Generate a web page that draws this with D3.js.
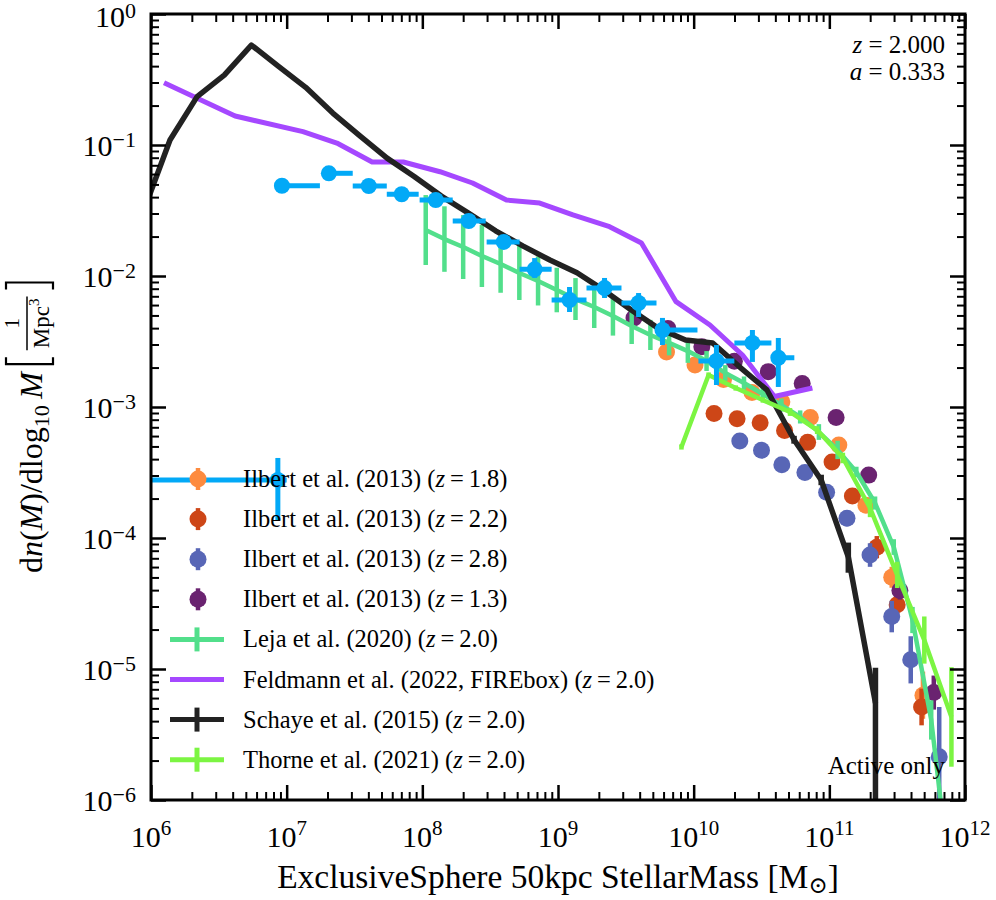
<!DOCTYPE html>
<html>
<head>
<meta charset="utf-8">
<script src="https://cdn.jsdelivr.net/npm/d3@7"></script>
<style>
body { margin: 0; background: #fff; }
text { font-family: "Liberation Serif", "DejaVu Serif", serif; fill: #000; }
</style>
</head>
<body>
<div id="chart-area"></div>
<script>
// all values are log10: mass in Msun, phi in 1/Mpc^3/dex

// Ilbert et al. (2013) z=1.8
let ilbert18M   = [9.80, 10.01, 10.22, 10.43, 10.65, 10.86, 11.07, 11.27, 11.46, 11.69];
let ilbert18Phi = [-2.58, -2.68, -2.79, -2.89, -2.96, -3.08, -3.29, -3.75, -4.30, -5.20];
let ilbert18Err = [0.04, 0.04, 0.04, 0.04, 0.04, 0.04, 0.05, 0.06, 0.08, 0.18];

// Ilbert et al. (2013) z=2.2
let ilbert22M   = [10.15, 10.32, 10.49, 10.67, 10.84, 11.02, 11.17, 11.35, 11.50, 11.68];
let ilbert22Phi = [-3.05, -3.09, -3.12, -3.18, -3.27, -3.42, -3.68, -4.07, -4.51, -5.29];
let ilbert22Err = [0.04, 0.04, 0.04, 0.04, 0.04, 0.05, 0.06, 0.085, 0.09, 0.14];

// Ilbert et al. (2013) z=2.8
let ilbert28M     = [10.34, 10.50, 10.65, 10.82, 10.98, 11.13, 11.30, 11.46, 11.60, 11.81];
let ilbert28Phi   = [-3.26, -3.33, -3.44, -3.50, -3.65, -3.85, -4.13, -4.60, -4.93, -5.67];
let ilbert28ErrUp = [0.04, 0.04, 0.04, 0.05, 0.05, 0.06, 0.09, 0.12, 0.18, 0.38];
let ilbert28ErrDn = [0.04, 0.04, 0.04, 0.05, 0.05, 0.06, 0.09, 0.12, 0.18, 1.50];

// Ilbert et al. (2013) z=1.3
let ilbert13M   = [9.56, 9.81, 10.06, 10.30, 10.55, 10.80, 11.05, 11.29, 11.52, 11.77];
let ilbert13Phi = [-2.32, -2.40, -2.54, -2.65, -2.73, -2.82, -3.08, -3.52, -4.40, -5.18];
let ilbert13Err = [0.03, 0.03, 0.03, 0.03, 0.03, 0.04, 0.04, 0.05, 0.07, 0.13];

// Leja et al. (2020)
let lejaM   = [8.025, 8.163, 8.301, 8.439, 8.577, 8.715, 8.853, 8.991, 9.129, 9.267,
               9.405, 9.543, 9.681, 9.819, 9.957, 10.095, 10.233, 10.371, 10.509, 10.647,
               10.785, 10.923, 11.061, 11.199, 11.337, 11.475, 11.613, 11.751, 11.889];
let lejaPhi = [-1.649, -1.718, -1.779, -1.847, -1.908, -1.977, -2.038, -2.107, -2.176, -2.237,
               -2.305, -2.382, -2.450, -2.511, -2.573, -2.649, -2.740, -2.817, -2.901, -2.985,
               -3.076, -3.191, -3.328, -3.496, -3.733, -4.069, -4.626, -5.389, -6.610];
let lejaErr = [0.267, 0.25, 0.244, 0.237, 0.22, 0.206, 0.187, 0.17, 0.16, 0.16,
               0.15, 0.137, 0.115, 0.095, 0.09, 0.076, 0.06, 0.05, 0.05, 0.05,
               0.05, 0.06, 0.07, 0.04, 0.05, 0.06, 0.10, 0.15, 0.20];

// Feldmann et al. (2022, FIREbox)
let feldmannM   = [6.096, 6.62, 7.12, 7.37, 7.63, 7.86, 8.13, 8.37, 8.62, 8.865,
                   9.11, 9.38, 9.615, 9.87, 10.12, 10.36, 10.595, 10.875];
let feldmannPhi = [-0.524, -0.779, -0.898, -0.985, -1.13, -1.13, -1.204, -1.29, -1.42, -1.443,
                   -1.534, -1.624, -1.748, -2.196, -2.374, -2.603, -2.92, -2.855];

// Schaye et al. (2015)
let schayeM     = [5.94, 6.14, 6.34, 6.54, 6.74, 6.94, 7.14, 7.34, 7.54, 7.74,
                   7.94, 8.14, 8.34, 8.54, 8.74, 8.94, 9.14, 9.34, 9.54, 9.74,
                   9.94, 10.14, 10.34, 10.54, 10.74, 10.94, 11.14, 11.34];
let schayePhi   = [-1.52, -0.962, -0.631, -0.466, -0.237, -0.40, -0.56, -0.756, -0.93, -1.10,
                   -1.24, -1.39, -1.52, -1.655, -1.77, -1.878, -1.975, -2.11, -2.26, -2.40,
                   -2.489, -2.511, -2.695, -2.87, -3.25, -3.557, -4.145, -5.26];
let schayeErrUp = [0, 0, 0, 0, 0, 0, 0, 0, 0, 0, 0, 0, 0, 0, 0, 0, 0, 0, 0, 0,
                   0, 0, 0, 0, 0.03, 0.04, 0.11, 0.27];
let schayeErrDn = [0, 0, 0, 0, 0, 0, 0, 0, 0, 0, 0, 0, 0, 0, 0, 0, 0, 0, 0, 0,
                   0, 0, 0, 0, 0.03, 0.04, 0.12, 3.0];

// Thorne et al. (2021)
let thorneM   = [9.91, 10.11, 10.31, 10.51, 10.71, 10.91, 11.10, 11.30, 11.50, 11.70, 11.90];
let thornePhi = [-3.305, -2.756, -2.855, -2.947, -3.038, -3.176, -3.389, -3.771, -4.282, -4.779, -5.366];
let thorneErr = [0.02, 0.02, 0.02, 0.02, 0.03, 0.03, 0.04, 0.07, 0.10, 0.18, 0.38];

// unlabelled binned points (light blue)
let binM     = [6.935, 6.965, 7.311, 7.605, 7.848, 8.099, 8.342, 8.60, 8.828, 9.085,
                9.343, 9.594, 9.77, 10.168, 10.433, 10.624];
let binMLo   = [5.5, 6.965, 7.26, 7.487, 7.738, 7.98, 8.224, 8.474, 8.717, 8.953,
                9.21, 9.468, 9.726, 10.035, 10.30, 10.573];
let binMHi   = [7.0, 7.245, 7.487, 7.738, 7.973, 8.224, 8.467, 8.717, 8.953, 9.21,
                9.468, 9.726, 10.028, 10.30, 10.573, 10.742];
let binPhi   = [-3.557, -1.311, -1.216, -1.313, -1.376, -1.42, -1.58, -1.74, -1.949, -2.183,
                -2.092, -2.206, -2.412, -2.649, -2.511, -2.624];
let binErrUp = [0.168, 0.02, 0.02, 0.02, 0.02, 0.02, 0.02, 0.03, 0.086, 0.099,
                0.077, 0.076, 0.092, 0.122, 0.099, 0.151];
let binErrDn = [0.306, 0.02, 0.02, 0.02, 0.02, 0.02, 0.02, 0.03, 0.066, 0.092,
                0.076, 0.107, 0.115, 0.183, 0.145, 0.223];

let xTickExps = [6, 7, 8, 9, 10, 11, 12];
let yTickExps = [0, -1, -2, -3, -4, -5, -6];

let legendNames = ["Ilbert et al. (2013) (", "Ilbert et al. (2013) (", "Ilbert et al. (2013) (",
                   "Ilbert et al. (2013) (", "Leja et al. (2020) (", "Feldmann et al. (2022, FIREbox) (",
                   "Schaye et al. (2015) (", "Thorne et al. (2021) ("];
let legendZ     = ["1.8", "2.2", "2.8", "1.3", "2.0", "2.0", "2.0", "2.0"];
let legendKind  = ["dot", "dot", "dot", "dot", "cross", "line", "cross", "cross"];

let cOrange = "#fd8b3f", cRed = "#cd4617", cBlue = "#5866b6", cPlum = "#6a2370";
let cLeja = "#52df8b", cFeld = "#a548ff", cSchaye = "#222222", cThorne = "#7cf542", cBin = "#02a9f7";
let legendColors = [cOrange, cRed, cBlue, cPlum, cLeja, cFeld, cSchaye, cThorne];

const W = 996, H = 900;
const L = 151, R = 965, T = 14, B = 800;
const p = v => Math.pow(10, v);

let svg = d3.select("#chart-area").append("svg")
    .attr("width", W).attr("height", H)
    .style("display", "block");
svg.append("rect").attr("width", W).attr("height", H).attr("fill", "#fff");

let x = d3.scaleLog().domain([1e6, 1e12]).range([L, R]);
let y = d3.scaleLog().domain([1e-6, 1]).range([B, T]);

svg.append("clipPath").attr("id", "plotclip")
    .append("rect").attr("x", L).attr("y", T).attr("width", R - L).attr("height", B - T);

let plot = svg.append("g").attr("clip-path", "url(#plotclip)");

function yerrBars(g, m, phi, up, dn, color, width) {
    g.selectAll(null).data(m).enter().append("line")
        .attr("x1", (d) => x(p(d))).attr("x2", (d) => x(p(d)))
        .attr("y1", (d, i) => y(p(phi[i] + up[i])))
        .attr("y2", (d, i) => y(p(phi[i] - dn[i])))
        .attr("stroke", color).attr("stroke-width", width);
}

function dots(m, phi, up, dn, color) {
    let g = plot.append("g");
    yerrBars(g, m, phi, up, dn, color, 4.5);
    g.selectAll("circle").data(m).enter().append("circle")
        .attr("cx", (d) => x(p(d)))
        .attr("cy", (d, i) => y(p(phi[i])))
        .attr("r", 8.5)
        .attr("fill", color);
}

function curve(m, phi, color, width) {
    let line = d3.line()
        .x((d) => x(p(d)))
        .y((d, i) => y(p(phi[i])));
    plot.append("path").datum(m)
        .attr("d", line)
        .attr("fill", "none")
        .attr("stroke", color)
        .attr("stroke-width", width)
        .attr("stroke-linejoin", "round");
}

dots(ilbert18M, ilbert18Phi, ilbert18Err, ilbert18Err, cOrange);
dots(ilbert22M, ilbert22Phi, ilbert22Err, ilbert22Err, cRed);
dots(ilbert28M, ilbert28Phi, ilbert28ErrUp, ilbert28ErrDn, cBlue);
dots(ilbert13M, ilbert13Phi, ilbert13Err, ilbert13Err, cPlum);

curve(lejaM, lejaPhi, cLeja, 4.5);
yerrBars(plot.append("g"), lejaM, lejaPhi, lejaErr, lejaErr, cLeja, 4.5);

curve(feldmannM, feldmannPhi, cFeld, 5);

curve(schayeM, schayePhi, cSchaye, 5.5);
yerrBars(plot.append("g"), schayeM, schayePhi, schayeErrUp, schayeErrDn, cSchaye, 5.5);

curve(thorneM, thornePhi, cThorne, 4.5);
yerrBars(plot.append("g"), thorneM, thornePhi, thorneErr, thorneErr, cThorne, 4.5);

// binned points
let bins = plot.append("g");
bins.selectAll("line.xe").data(binM).enter().append("line")
    .attr("x1", (d, i) => x(p(binMLo[i]))).attr("x2", (d, i) => x(p(binMHi[i])))
    .attr("y1", (d, i) => y(p(binPhi[i]))).attr("y2", (d, i) => y(p(binPhi[i])))
    .attr("stroke", cBin).attr("stroke-width", 5);
yerrBars(bins, binM, binPhi, binErrUp, binErrDn, cBin, 5);
bins.selectAll("circle").data(binM).enter().append("circle")
    .attr("cx", (d) => x(p(d)))
    .attr("cy", (d, i) => y(p(binPhi[i])))
    .attr("r", 8)
    .attr("fill", cBin);

// axes (ticks inward on all four sides)
let majX = xTickExps.map(p);
let majY = yTickExps.map(p);
let minX = [], minY = [];
xTickExps.slice(0, -1).forEach((e) => { for (let k = 2; k < 10; k++) minX.push(k * p(e)); });
yTickExps.slice(1).forEach((e) => { for (let k = 2; k < 10; k++) minY.push(k * p(e)); });

function axisGroup(axis, tx, ty) {
    let g = svg.append("g").attr("transform", `translate(${tx},${ty})`).call(axis);
    g.select(".domain").remove();
    g.selectAll("text").remove();
    return g;
}
[[d3.axisBottom, 0, B], [d3.axisTop, 0, T]].forEach(([a, tx, ty]) => {
    axisGroup(a(x).tickValues(majX).tickSize(-15).tickSizeOuter(0), tx, ty)
        .selectAll("line").attr("stroke-width", 2.5);
    axisGroup(a(x).tickValues(minX).tickSize(-8).tickSizeOuter(0), tx, ty)
        .selectAll("line").attr("stroke-width", 2);
});
[[d3.axisLeft, L, 0], [d3.axisRight, R, 0]].forEach(([a, tx, ty]) => {
    axisGroup(a(y).tickValues(majY).tickSize(-15).tickSizeOuter(0), tx, ty)
        .selectAll("line").attr("stroke-width", 2.5);
    axisGroup(a(y).tickValues(minY).tickSize(-8).tickSizeOuter(0), tx, ty)
        .selectAll("line").attr("stroke-width", 2);
});

svg.append("rect").attr("x", L).attr("y", T).attr("width", R - L).attr("height", B - T)
    .attr("fill", "none").attr("stroke", "#000").attr("stroke-width", 3);

// tick labels
xTickExps.forEach((e) => {
    let t = svg.append("text").attr("x", x(p(e))).attr("y", 847)
        .attr("text-anchor", "middle").attr("font-size", 30);
    t.append("tspan").text("10");
    t.append("tspan").attr("dy", -12).attr("font-size", 21).text(String(e));
});
yTickExps.forEach((e) => {
    let t = svg.append("text").attr("x", 136).attr("y", y(p(e)) + (e === 0 ? 13 : 11))
        .attr("text-anchor", "end").attr("font-size", 30);
    t.append("tspan").text("10");
    t.append("tspan").attr("dy", -9).attr("font-size", 22)
        .text(e === 0 ? "0" : "\u2212" + Math.abs(e));
});

// x axis title
let xt = svg.append("text").attr("x", 558).attr("y", 888)
    .attr("text-anchor", "middle").attr("font-size", 33.5);
xt.append("tspan").text("ExclusiveSphere 50kpc StellarMass [M");
xt.append("tspan").attr("dy", 5).attr("font-size", 23).text("\u2299");
xt.append("tspan").attr("dy", -5).text("]");

// y axis title
let yg = svg.append("g").attr("transform", "translate(42,573) rotate(-90)");
let yt = yg.append("text").attr("x", 0).attr("y", 0).attr("font-size", 32);
yt.append("tspan").text("d");
yt.append("tspan").attr("font-style", "italic").text("n");
yt.append("tspan").text("(");
yt.append("tspan").attr("font-style", "italic").text("M");
yt.append("tspan").text(")/dlog");
yt.append("tspan").attr("dy", 7).attr("font-size", 22).text("10");
yt.append("tspan").attr("dy", -7).attr("font-style", "italic").text("\u2009M");
let yw = yt.node().getComputedTextLength();
let bx = yw + 8;
let den = yg.append("text").attr("y", 7).attr("font-size", 23);
den.append("tspan").text("Mpc");
den.append("tspan").attr("dy", -10).attr("font-size", 15).text("3");
let dw = den.node().getComputedTextLength();
den.attr("x", bx + 16);
yg.append("text").attr("x", bx + 16 + dw / 2).attr("y", -23).attr("font-size", 21)
    .attr("text-anchor", "middle").text("1");
yg.append("line").attr("x1", bx + 14).attr("x2", bx + 18 + dw)
    .attr("y1", -15).attr("y2", -15).attr("stroke", "#000").attr("stroke-width", 1.5);
yg.append("path")
    .attr("d", `M${bx + 7},-36 H${bx} V11 H${bx + 7} M${bx + dw + 25},-36 H${bx + dw + 32} V11 H${bx + dw + 25}`)
    .attr("fill", "none").attr("stroke", "#000").attr("stroke-width", 2.2);

// annotations
let a1 = svg.append("text").attr("x", 945).attr("y", 53).attr("text-anchor", "end").attr("font-size", 25);
a1.append("tspan").attr("font-style", "italic").text("z");
a1.append("tspan").text(" = 2.000");
let a2 = svg.append("text").attr("x", 945).attr("y", 80).attr("text-anchor", "end").attr("font-size", 25);
a2.append("tspan").attr("font-style", "italic").text("a");
a2.append("tspan").text(" = 0.333");
svg.append("text").attr("x", 945).attr("y", 774).attr("text-anchor", "end")
    .attr("font-size", 25).text("Active only");

// legend
let leg = svg.append("g");
legendNames.forEach((name, i) => {
    let ly = 479 + i * 40.1;
    let c = legendColors[i];
    let kind = legendKind[i];
    if (kind === "dot") {
        leg.append("line").attr("x1", 198).attr("x2", 198).attr("y1", ly - 11).attr("y2", ly + 11)
            .attr("stroke", c).attr("stroke-width", 4.5);
        leg.append("circle").attr("cx", 198).attr("cy", ly).attr("r", 8.5).attr("fill", c);
    } else {
        leg.append("line").attr("x1", 170).attr("x2", 224).attr("y1", ly).attr("y2", ly)
            .attr("stroke", c).attr("stroke-width", 5);
        if (kind === "cross") {
            leg.append("line").attr("x1", 197).attr("x2", 197).attr("y1", ly - 12).attr("y2", ly + 12)
                .attr("stroke", c).attr("stroke-width", 5);
        }
    }
    let t = leg.append("text").attr("x", 243).attr("y", ly + 8).attr("font-size", 24.5);
    t.append("tspan").text(name);
    t.append("tspan").attr("font-style", "italic").text("z");
    t.append("tspan").text("\u2009=\u2009" + legendZ[i] + ")");
});
</script>
</body>
</html>
